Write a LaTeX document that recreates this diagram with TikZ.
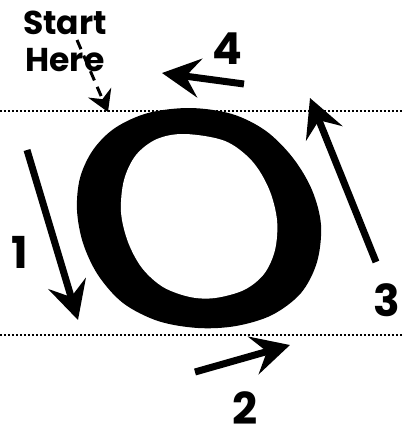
\documentclass[tikz,border=0pt]{standalone}
\usepackage{fontspec}
\setmainfont{Poppins}
\usetikzlibrary{arrows.meta}
\begin{document}
\begin{tikzpicture}[x=1pt,y=-1pt,
  guide/.style={line width=1.7pt, dash pattern=on 1.7pt off 2.3pt},
  stroke/.style={line width=7pt, -{Stealth[length=38pt,width=39pt,inset=14pt]}},
  hint/.style={line width=3pt, dash pattern=on 10pt off 7pt, -{Stealth[length=21pt,width=25pt,inset=7pt]}},
  lbl/.style={font=\fontsize{44}{44}\selectfont\bfseries, inner sep=0pt},
  note/.style={font=\fontsize{33}{37}\selectfont\bfseries, inner sep=0pt, align=center},
]
\useasboundingbox (0,0) rectangle (404,432);
\fill[white] (0,0) rectangle (404,432);
% the letter O
\fill[black] plot[smooth cycle, tension=0.55] coordinates {
  (190,108) (232,114) (266,131) (293,158) (312,190) (321,225) (317,262)
  (301,293) (272,315) (236,326) (198,328) (158,321) (123,303) (98,275)
  (83,243) (77,210) (80,178) (93,150) (115,128) (148,113)};
\fill[white] plot[smooth cycle, tension=0.55] coordinates {
  (185,134) (225,141) (252,161) (269,189) (277,220) (275,250) (264,274)
  (244,290) (215,298) (190,297) (163,287) (142,268) (128,242) (121,212)
  (124,180) (136,155) (157,139)};
% guide lines
\coordinate (gtl) at (0,111);
\coordinate (gtr) at (404,111);
\coordinate (gbl) at (0,335);
\coordinate (gbr) at (404,335);
\draw[guide] (gtl) -- (gtr);
\draw[guide] (gbl) -- (gbr);
% start hint
\node[note] (start) at (65,41) {Start\\Here};
\coordinate (hs) at (77,40);
\coordinate (he) at (108,112);
\draw[hint] (hs) -- (he);
% strokes
\coordinate (a1s) at (27,150);
\coordinate (a1e) at (78,320);
\coordinate (a2s) at (195,372);
\coordinate (a2e) at (290,345);
\coordinate (a3s) at (376,262);
\coordinate (a3e) at (310,98);
\coordinate (a4s) at (244,84);
\coordinate (a4e) at (162,73);
\draw[stroke] (a1s) -- (a1e);
\draw[stroke] (a2s) -- (a2e);
\draw[stroke] (a3s) -- (a3e);
\draw[stroke] (a4s) -- (a4e);
% labels
\node[lbl] (n1) at (20,252) {1};
\node[lbl] (n2) at (245,408) {2};
\node[lbl] (n3) at (387,300) {3};
\node[lbl] (n4) at (227,49) {4};
\end{tikzpicture}
\end{document}
